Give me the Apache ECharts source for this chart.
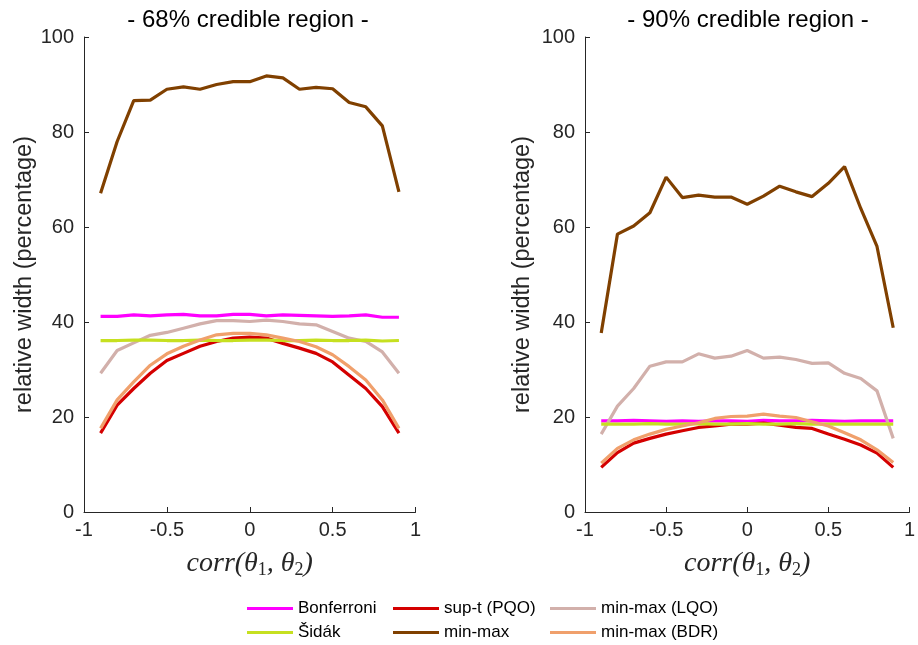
<!DOCTYPE html>
<html>
<head>
<meta charset="utf-8">
<script src="https://cdn.jsdelivr.net/npm/echarts@6/dist/echarts.min.js"></script>
<style>
  html, body { margin: 0; padding: 0; background: #fff; }
  #chart { width: 918px; height: 645px; }
</style>
</head>
<body>
<div id="chart"></div>
<script>
// Correlation between the two parameters (x positions of every curve)
const corr = [-0.9, -0.8, -0.7, -0.6, -0.5, -0.4, -0.3, -0.2, -0.1, 0, 0.1, 0.2, 0.3, 0.4, 0.5, 0.6, 0.7, 0.8, 0.9];

// Panel titles
const panelTitles = ['- 68% credible region -', '- 90% credible region -'];

// Method names, in legend order
const methodNames = ['Bonferroni', 'sup-t (PQO)', 'min-max (LQO)', 'Šidák', 'min-max', 'min-max (BDR)'];

// Relative width (%) — 68% credible region
const bonf68   = [41.2, 41.2, 41.5, 41.3, 41.5, 41.6, 41.3, 41.3, 41.6, 41.6, 41.3, 41.5, 41.4, 41.3, 41.2, 41.3, 41.5, 41.0, 41.0];
const supt68   = [16.6, 22.5, 26.0, 29.2, 31.9, 33.4, 34.9, 35.9, 36.6, 36.8, 36.6, 35.5, 34.5, 33.4, 31.6, 28.8, 26.0, 22.2, 16.6];
const lqo68    = [29.2, 34.0, 35.6, 37.2, 37.8, 38.7, 39.6, 40.3, 40.3, 40.1, 40.4, 40.1, 39.6, 39.4, 38.0, 36.6, 35.9, 33.7, 29.2];
const sidak68  = [36.1, 36.1, 36.2, 36.2, 36.1, 36.1, 36.2, 36.1, 36.1, 36.2, 36.2, 36.1, 36.1, 36.2, 36.1, 36.1, 36.2, 36.0, 36.1];
const minmax68 = [67.1, 78.0, 86.6, 86.7, 89.0, 89.5, 89.0, 90.0, 90.6, 90.6, 91.8, 91.4, 89.0, 89.4, 89.1, 86.2, 85.3, 81.3, 67.4];
const bdr68    = [17.6, 23.6, 27.4, 30.9, 33.3, 34.9, 36.2, 37.3, 37.6, 37.6, 37.3, 36.6, 35.9, 34.8, 33.1, 30.6, 27.8, 23.6, 17.6];

// Relative width (%) — 90% credible region
const bonf90   = [19.2, 19.2, 19.3, 19.2, 19.1, 19.2, 19.1, 19.2, 19.2, 19.1, 19.3, 19.2, 19.2, 19.3, 19.2, 19.1, 19.2, 19.2, 19.2];
const supt90   = [9.4, 12.5, 14.5, 15.5, 16.4, 17.1, 17.8, 18.1, 18.5, 18.5, 18.7, 18.3, 17.8, 17.6, 16.4, 15.3, 14.1, 12.4, 9.4];
const lqo90    = [16.4, 22.3, 26.0, 30.7, 31.6, 31.6, 33.3, 32.4, 32.8, 34.0, 32.4, 32.6, 32.1, 31.3, 31.4, 29.2, 28.1, 25.5, 15.5];
const sidak90  = [18.5, 18.5, 18.5, 18.6, 18.5, 18.5, 18.6, 18.5, 18.5, 18.6, 18.5, 18.5, 18.6, 18.5, 18.5, 18.5, 18.5, 18.5, 18.5];
const minmax90 = [37.7, 58.5, 60.2, 63.0, 70.5, 66.2, 66.7, 66.3, 66.3, 64.8, 66.5, 68.6, 67.4, 66.4, 69.2, 72.7, 63.9, 55.9, 38.8];
const bdr90    = [10.3, 13.4, 15.2, 16.4, 17.4, 18.1, 18.8, 19.7, 20.1, 20.2, 20.6, 20.2, 19.9, 19.0, 18.1, 16.7, 15.2, 13.1, 10.4];

// Tick values on the axes
const xTicks = { min: -1, max: 1, step: 0.5 };
const yTicks = { min: 0, max: 100, step: 20 };

const methodColors = {
  'Bonferroni':    '#ff00ff',
  'sup-t (PQO)':   '#d40000',
  'min-max (LQO)': '#d2b0ab',
  'Šidák':         '#c6e020',
  'min-max':       '#804000',
  'min-max (BDR)': '#f0a06c'
};

const panelData = [
  { 'Bonferroni': bonf68, 'sup-t (PQO)': supt68, 'min-max (LQO)': lqo68, 'Šidák': sidak68, 'min-max': minmax68, 'min-max (BDR)': bdr68 },
  { 'Bonferroni': bonf90, 'sup-t (PQO)': supt90, 'min-max (LQO)': lqo90, 'Šidák': sidak90, 'min-max': minmax90, 'min-max (BDR)': bdr90 }
];

const SANS = 'Liberation Sans, Arial, Helvetica, sans-serif';
const SERIF = 'Liberation Serif, Times New Roman, serif';
const INK = '#262626';

const grids = [
  { left: 84,  top: 37, width: 331.5, height: 475 },
  { left: 585, top: 37, width: 333,   height: 475 }
];
const yNameGaps = [47, 50];
const titleCenters = [243, 743];

const xAxes = grids.map((g, i) => ({
  type: 'value',
  gridIndex: i,
  min: xTicks.min, max: xTicks.max, interval: xTicks.step,
  axisLine: { show: true, onZero: false, lineStyle: { color: INK, width: 1 } },
  axisTick: { show: true, inside: true, length: 5, lineStyle: { color: INK } },
  axisLabel: { color: INK, fontFamily: SANS, fontSize: 20, margin: 8 },
  splitLine: { show: false },
  name: '{i|corr(θ}{s|1}{i|, θ}{s|2}{i|)}',
  nameLocation: 'middle',
  nameGap: 36,
  nameTextStyle: {
    rich: {
      i: { fontFamily: SERIF, fontStyle: 'italic', fontSize: 28, color: INK },
      s: { fontFamily: SERIF, fontSize: 18, color: INK, padding: [13, 0, 0, 0] }
    }
  }
}));

const yAxes = grids.map((g, i) => ({
  type: 'value',
  gridIndex: i,
  min: yTicks.min, max: yTicks.max, interval: yTicks.step,
  axisLine: { show: true, onZero: false, lineStyle: { color: INK, width: 1 } },
  axisTick: { show: true, inside: true, length: 5, lineStyle: { color: INK } },
  axisLabel: { color: INK, fontFamily: SANS, fontSize: 20, margin: 10 },
  splitLine: { show: false },
  name: 'relative width (percentage)',
  nameLocation: 'middle',
  nameGap: yNameGaps[i],
  nameTextStyle: { color: INK, fontFamily: SANS, fontSize: 23.5 }
}));

const series = [];
panelData.forEach((panel, p) => {
  methodNames.forEach(name => {
    series.push({
      type: 'line',
      name: name,
      xAxisIndex: p,
      yAxisIndex: p,
      data: corr.map((c, k) => [c, panel[name][k]]),
      color: methodColors[name],
      lineStyle: { width: 3.2, color: methodColors[name] },
      showSymbol: false,
      symbol: 'none',
      animation: false
    });
  });
});

// Legend laid out as three columns of two entries
const legendColumns = [
  { left: 247, data: ['Bonferroni', 'Šidák'] },
  { left: 393, data: ['sup-t (PQO)', 'min-max'] },
  { left: 550, data: ['min-max (LQO)', 'min-max (BDR)'] }
];
const legends = legendColumns.map(col => ({
  orient: 'vertical',
  left: col.left,
  top: 600,
  padding: 0,
  data: col.data,
  icon: 'rect',
  itemWidth: 46,
  itemHeight: 3,
  itemGap: 7,
  textStyle: { color: '#000', fontFamily: SANS, fontSize: 17 },
  selectedMode: false
}));

const titles = panelTitles.map((t, i) => ({
  text: t,
  left: titleCenters[i],
  top: 3,
  textAlign: 'center',
  textStyle: { color: '#000', fontFamily: SANS, fontSize: 24, fontWeight: 'normal' }
}));

const chart = echarts.init(document.getElementById('chart'), null, { renderer: 'canvas' });
chart.setOption({
  backgroundColor: '#ffffff',
  animation: false,
  title: titles,
  legend: legends,
  grid: grids,
  xAxis: xAxes,
  yAxis: yAxes,
  series: series
});
</script>
</body>
</html>
